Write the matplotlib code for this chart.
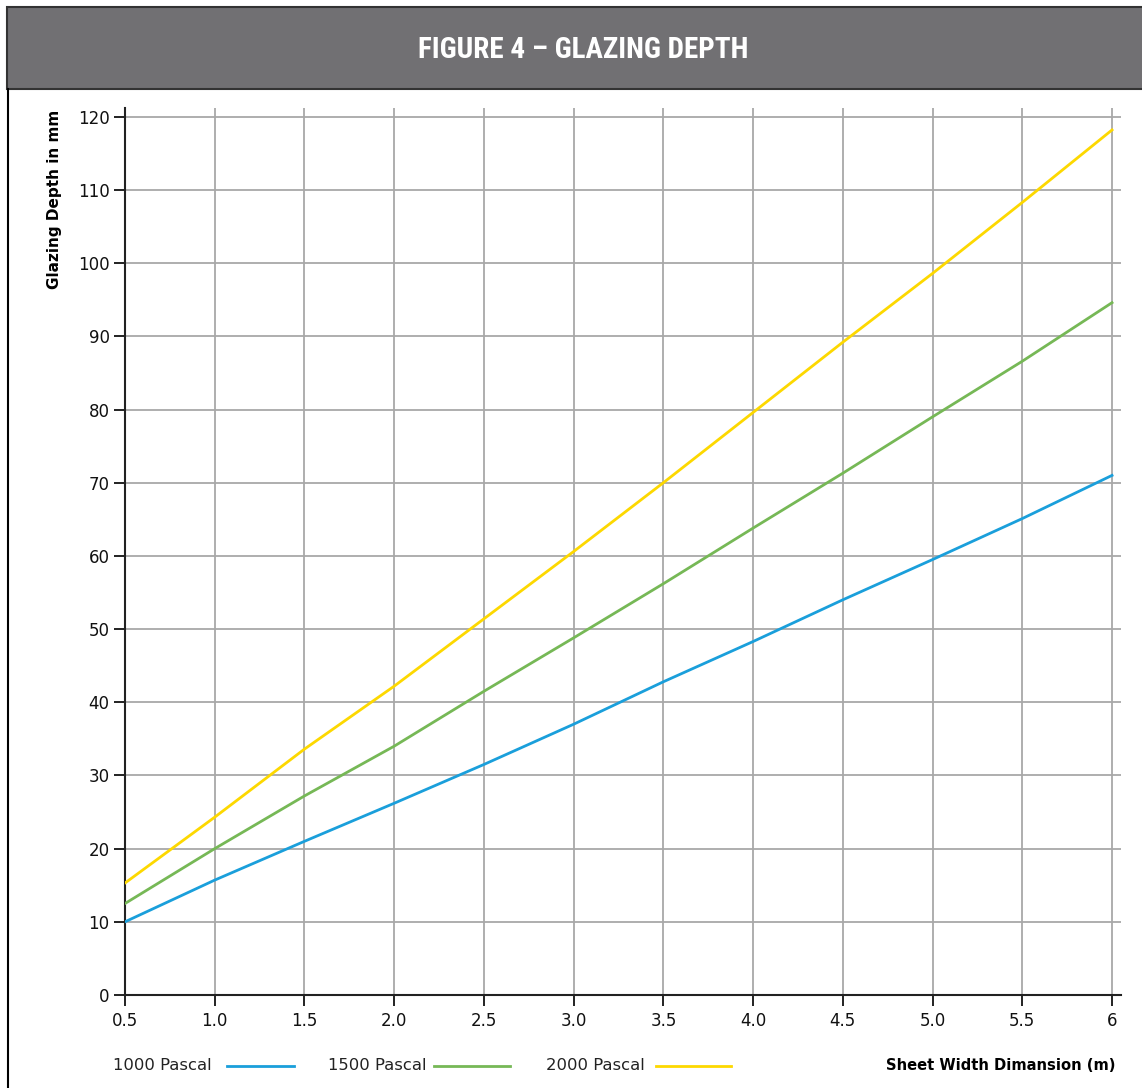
import numpy as np
import matplotlib.pyplot as plt
from matplotlib.lines import Line2D
from matplotlib.patches import Rectangle

plt.rcParams.update({
    "font.family": ["DejaVu Sans"],
    "font.size": 11,
})

# Data
width_m = [0.5, 1.0, 1.5, 2.0, 2.5, 3.0, 3.5, 4.0, 4.5, 5.0, 5.5, 6.0]
depth_1000 = [10.0, 15.7, 21.0, 26.2, 31.5, 37.0, 42.8, 48.3, 54.0, 59.5, 65.1, 71.0]
depth_1500 = [12.5, 20.0, 27.2, 34.0, 41.5, 48.8, 56.2, 63.8, 71.3, 79.0, 86.6, 94.6]
depth_2000 = [15.3, 24.3, 33.6, 42.2, 51.4, 60.6, 70.0, 79.6, 89.2, 98.6, 108.3, 118.2]
series_labels = ["1000 Pascal", "1500 Pascal", "2000 Pascal"]
x_ticks = [0.5, 1.0, 1.5, 2.0, 2.5, 3.0, 3.5, 4.0, 4.5, 5.0, 5.5, 6.0]
x_ticklabels = ["0.5", "1.0", "1.5", "2.0", "2.5", "3.0", "3.5", "4.0", "4.5", "5.0", "5.5", "6"]
y_ticks = [0, 10, 20, 30, 40, 50, 60, 70, 80, 90, 100, 110, 120]

colors = ["#1a9fdb", "#76b856", "#fdd800"]

W, H = 1142, 1088
fig = plt.figure(figsize=(W / 100, H / 100), dpi=100)

# Header band and frame
fig.patches.append(Rectangle((7 / W, 1 - 89 / H), 1, 82 / H, transform=fig.transFigure,
                             facecolor="#717073", edgecolor="#333333", linewidth=1.5, zorder=0))
fig.add_artist(Line2D([7.5 / W, 7.5 / W], [0, 1 - 89 / H], transform=fig.transFigure,
                      color="black", linewidth=1.5))
fig.text(583 / W, 1 - 50 / H, "FIGURE 4 – GLAZING DEPTH", color="white",
         fontsize=21, fontweight="bold", ha="center", va="center",
         family=["Roboto Condensed", "Roboto", "DejaVu Sans"])

# Axes placement
x0, x1 = 125, 1121
y0, y1 = 995, 108
ax = fig.add_axes([x0 / W, 1 - y0 / H, (x1 - x0) / W, (y0 - y1) / H])

ax.plot(width_m, depth_1000, color=colors[0], lw=2, zorder=3)
ax.plot(width_m, depth_1500, color=colors[1], lw=2, zorder=3)
ax.plot(width_m, depth_2000, color=colors[2], lw=2, zorder=3)

ax.set_xlim(0.5, 6.05)
ax.set_ylim(0, 121.2)
ax.set_xticks(x_ticks)
ax.set_xticklabels(x_ticklabels, fontsize=12)
ax.set_yticks(y_ticks)
ax.set_yticklabels([str(v) for v in y_ticks], fontsize=12)
ax.grid(True, color="#a8a8a8", linewidth=1.3)
ax.set_axisbelow(True)
for s in ["top", "right"]:
    ax.spines[s].set_visible(False)
for s in ["left", "bottom"]:
    ax.spines[s].set_linewidth(1.5)
    ax.spines[s].set_color("#222222")
ax.tick_params(axis="x", direction="out", length=8, width=1.3, pad=4, colors="#111111")
ax.tick_params(axis="y", direction="out", length=8, width=1.3, pad=3, colors="#111111")

fig.text(55 / W, 1 - 199 / H, "Glazing Depth in mm", rotation=90, fontsize=11,
         fontweight="bold", ha="center", va="center")

# Legend row at bottom
leg_y = 1 - 1066 / H
text_x = [113, 328, 546]
line_x = [(227, 294), (434, 510), (656, 731)]
for lbl, tx, (la, lb), c in zip(series_labels, text_x, line_x, colors):
    fig.text(tx / W, leg_y, lbl, fontsize=11.8, ha="left", va="center", color="#222222")
    fig.add_artist(Line2D([la / W, lb / W], [leg_y, leg_y], transform=fig.transFigure,
                          color=c, linewidth=2))
fig.text(1116 / W, leg_y, "Sheet Width Dimansion (m)", fontsize=10.6, fontweight="bold",
         ha="right", va="center")

fig.savefig("out.png", dpi=100)
